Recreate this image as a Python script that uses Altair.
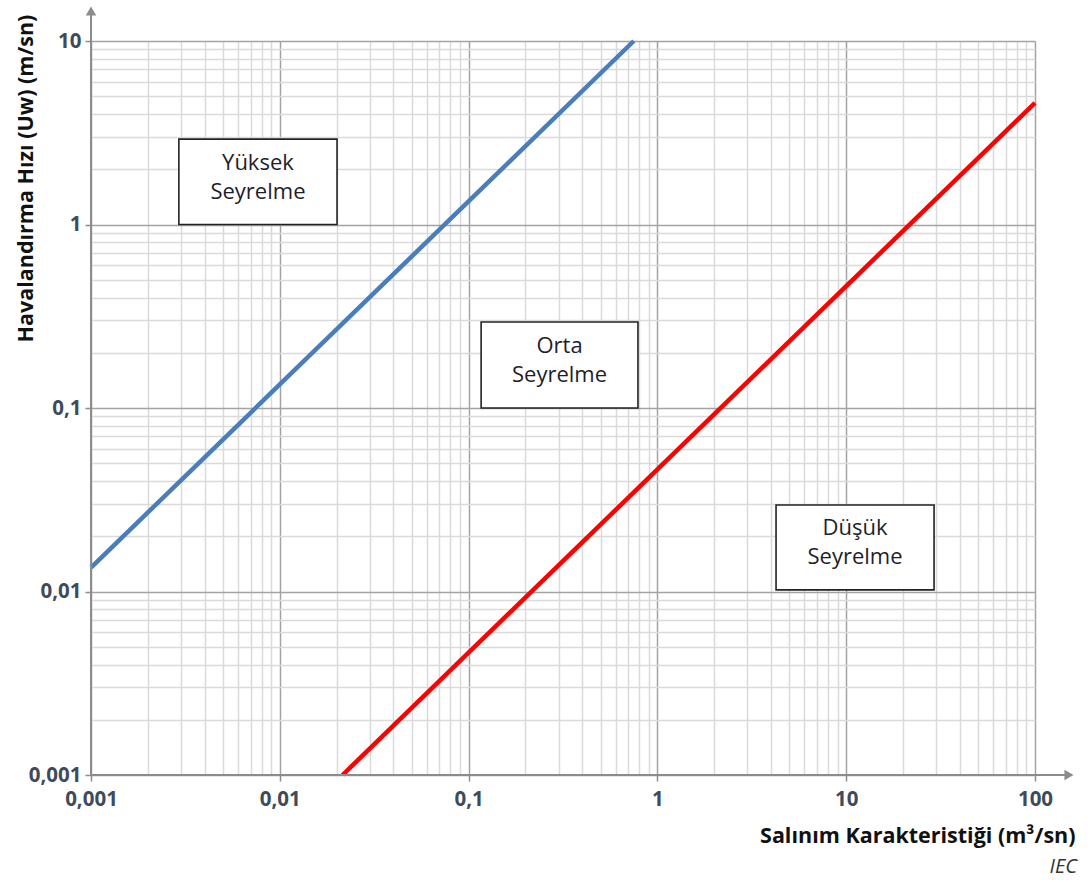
import altair as alt
import pandas as pd

# Dilution boundary lines (release characteristic vs. ventilation velocity)
blue_x = [0.001, 0.75]
blue_y = [0.0135, 10]
red_x = [0.0215, 100]
red_y = [0.001, 4.6]

# Region labels and their frames (data coordinates)
box_labels = ["Yüksek\nSeyrelme", "Orta\nSeyrelme", "Düşük\nSeyrelme"]
box_x1 = [0.00292, 0.1165, 4.25]
box_x2 = [0.0201, 0.789, 29.2]
box_y1 = [1.0, 0.1, 0.0102]
box_y2 = [2.92, 0.294, 0.0296]

# Log grid values: 1..9 per decade
x_grid = [round(m * 10 ** k, 6) for k in range(-3, 2) for m in range(1, 10)] + [100]
y_grid = [round(m * 10 ** k, 6) for k in range(-3, 1) for m in range(1, 10)] + [10]

W, H = 944, 734
FONT = "Open Sans"
AXIS_GREY = "#8c8c8c"

major = "abs(log(datum.value)/LN10 - round(log(datum.value)/LN10)) < 0.001"
label_expr = f"({major}) ? replace(format(datum.value, '~g'), '.', ',') : ''"

def log_axis(values, **kw):
    return alt.Axis(
        values=values,
        grid=True,
        gridColor={"condition": {"test": major, "value": "#a3a3a3"}, "value": "#dadada"},
        gridWidth=1.5,
        domain=False,
        ticks=True,
        tickSize=6,
        tickColor=AXIS_GREY,
        tickWidth=1.5,
        tickOpacity={"condition": {"test": major, "value": 1}, "value": 0},
        labelExpr=label_expr,
        labelOverlap=False,
        labelFlush=False,
        labelFont=FONT,
        labelFontSize=20.5,
        labelFontWeight="bold",
        labelColor="#3f4b5b",
        titleFont=FONT,
        titleFontSize=21.5,
        titleFontWeight="bold",
        titleColor="#111111",
        **kw,
    )

xscale = alt.Scale(type="log", domain=[0.001, 100], nice=False)
yscale = alt.Scale(type="log", domain=[0.001, 10], nice=False)

blue = pd.DataFrame({"x": blue_x, "y": blue_y})
red = pd.DataFrame({"x": red_x, "y": red_y})
boxes = pd.DataFrame({"label": box_labels, "x1": box_x1, "x2": box_x2, "y1": box_y1, "y2": box_y2})
boxes["xc"] = (boxes["x1"] * boxes["x2"]) ** 0.5
boxes["yc"] = (boxes["y1"] * boxes["y2"]) ** 0.5

x_enc = alt.X(
    "x:Q", scale=xscale,
    axis=log_axis(x_grid, title="Salınım Karakteristiği (m³/sn)", labelPadding=8,
                  titleX=984, titleY=67, titleAlign="right", titleBaseline="alphabetic"),
)
y_enc = alt.Y(
    "y:Q", scale=yscale,
    axis=log_axis(y_grid, title="Havalandırma Hızı (Uw) (m/sn)", labelPadding=4,
                  titleX=-59, titleY=137, titleAlign="center", titleBaseline="alphabetic",
                  titleAngle=270),
)

blue_line = alt.Chart(blue).mark_line(color="#4a7ebb", strokeWidth=4.5).encode(x=x_enc, y=y_enc)
red_line = alt.Chart(red).mark_line(color="#ff0000", strokeWidth=4.5).encode(
    x=alt.X("x:Q", scale=xscale), y=alt.Y("y:Q", scale=yscale)
)

frames = alt.Chart(boxes).mark_rect(fill="white", stroke="#222222", strokeWidth=1.6).encode(
    x=alt.X("x1:Q", scale=xscale), x2="x2:Q",
    y=alt.Y("y1:Q", scale=yscale), y2="y2:Q",
)
texts = alt.Chart(boxes).mark_text(
    font=FONT, fontSize=22, color="#1e1e2a", lineBreak="\n", lineHeight=29,
    align="center", baseline="middle", dy=-19,
).encode(
    x=alt.X("xc:Q", scale=xscale), y=alt.Y("yc:Q", scale=yscale), text="label:N"
)

# Axis lines with arrow heads running past the plot area
y_axis_line = alt.Chart(blue).mark_rule(color=AXIS_GREY, strokeWidth=2, clip=False).encode(
    x=alt.value(0), y=alt.value(H), y2=alt.value(-26)
)
x_axis_line = alt.Chart(blue).mark_rule(color=AXIS_GREY, strokeWidth=2, clip=False).encode(
    x=alt.value(0), x2=alt.value(W + 30), y=alt.value(H)
)
y_arrow = alt.Chart(blue.head(1)).mark_point(
    shape="triangle-up", filled=True, color=AXIS_GREY, size=110, opacity=1, clip=False
).encode(x=alt.value(0), y=alt.value(-30))
x_arrow = alt.Chart(blue.head(1)).mark_point(
    shape="triangle-right", filled=True, color=AXIS_GREY, size=110, opacity=1, clip=False
).encode(x=alt.value(W + 34), y=alt.value(H))

source = alt.Chart(blue.head(1)).mark_text(
    text="IEC", font=FONT, fontSize=20, fontStyle="italic", color="#333333",
    align="right", baseline="alphabetic", clip=False,
).encode(x=alt.value(W + 42), y=alt.value(H + 98))

chart = (
    alt.layer(blue_line, red_line, frames, texts, y_axis_line, x_axis_line, y_arrow, x_arrow, source)
    .properties(
        width=W, height=H,
        autosize=alt.AutoSizeParams(type="none"),
        padding={"left": 91, "top": 41, "right": 57, "bottom": 107},
        background="white",
    )
    .configure_view(strokeWidth=0)
)

chart.save("out.html", embed_options={"renderer": "svg", "actions": False})
